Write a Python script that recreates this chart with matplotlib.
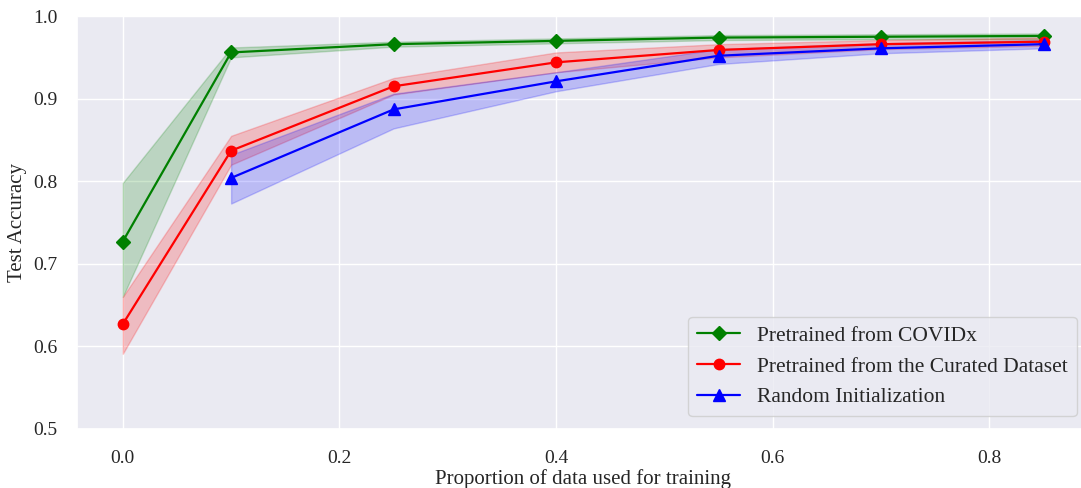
import numpy as np
import matplotlib
matplotlib.use("Agg")
import matplotlib.pyplot as plt
import seaborn as sns

sns.set_theme(style="darkgrid")
plt.rcParams['font.family'] = ['Liberation Serif', 'DejaVu Serif']

# proportions of data used for training
x_all = [0.0, 0.1, 0.25, 0.4, 0.55, 0.7, 0.85]
x_rand = [0.1, 0.25, 0.4, 0.55, 0.7, 0.85]

# Pretrained from COVIDx
covidx_mean = [0.727, 0.956, 0.966, 0.970, 0.974, 0.975, 0.976]
covidx_lo = [0.660, 0.950, 0.963, 0.967, 0.971, 0.972, 0.972]
covidx_hi = [0.798, 0.962, 0.969, 0.973, 0.977, 0.978, 0.979]

# Pretrained from the Curated Dataset
curated_mean = [0.627, 0.837, 0.915, 0.944, 0.959, 0.966, 0.969]
curated_lo = [0.591, 0.820, 0.905, 0.932, 0.950, 0.960, 0.964]
curated_hi = [0.660, 0.855, 0.925, 0.956, 0.966, 0.971, 0.974]

# Random Initialization
random_mean = [0.804, 0.887, 0.921, 0.952, 0.961, 0.966]
random_lo = [0.773, 0.864, 0.909, 0.942, 0.955, 0.961]
random_hi = [0.832, 0.906, 0.932, 0.960, 0.967, 0.971]

fig, ax = plt.subplots(figsize=(10.81, 4.88), dpi=100)
fig.subplots_adjust(left=0.071, right=1.008, top=0.967, bottom=0.121)

ax.plot(x_all, covidx_mean, color='green', marker='D', markersize=7, lw=1.6,
        label='Pretrained from COVIDx')
ax.fill_between(x_all, covidx_lo, covidx_hi, color='green', alpha=0.2)

ax.plot(x_all, curated_mean, color='red', marker='o', markersize=7.5, lw=1.6,
        label='Pretrained from the Curated Dataset')
ax.fill_between(x_all, curated_lo, curated_hi, color='red', alpha=0.2)

ax.plot(x_rand, random_mean, color='blue', marker='^', markersize=8, lw=1.6,
        label='Random Initialization')
ax.fill_between(x_rand, random_lo, random_hi, color='blue', alpha=0.2)

ax.set_ylim(0.5, 1.0)
ax.set_xticks([0.0, 0.2, 0.4, 0.6, 0.8])
ax.tick_params(labelsize=14)
ax.tick_params(axis='x', pad=9)
ax.tick_params(axis='y', pad=8)
ax.set_xlabel('Proportion of data used for training', fontsize=15, labelpad=2)
ax.set_ylabel('Test Accuracy', fontsize=15)
ax.legend(loc='lower right', fontsize=15.5, borderaxespad=0.6)

fig.savefig('out.png', dpi=100)
